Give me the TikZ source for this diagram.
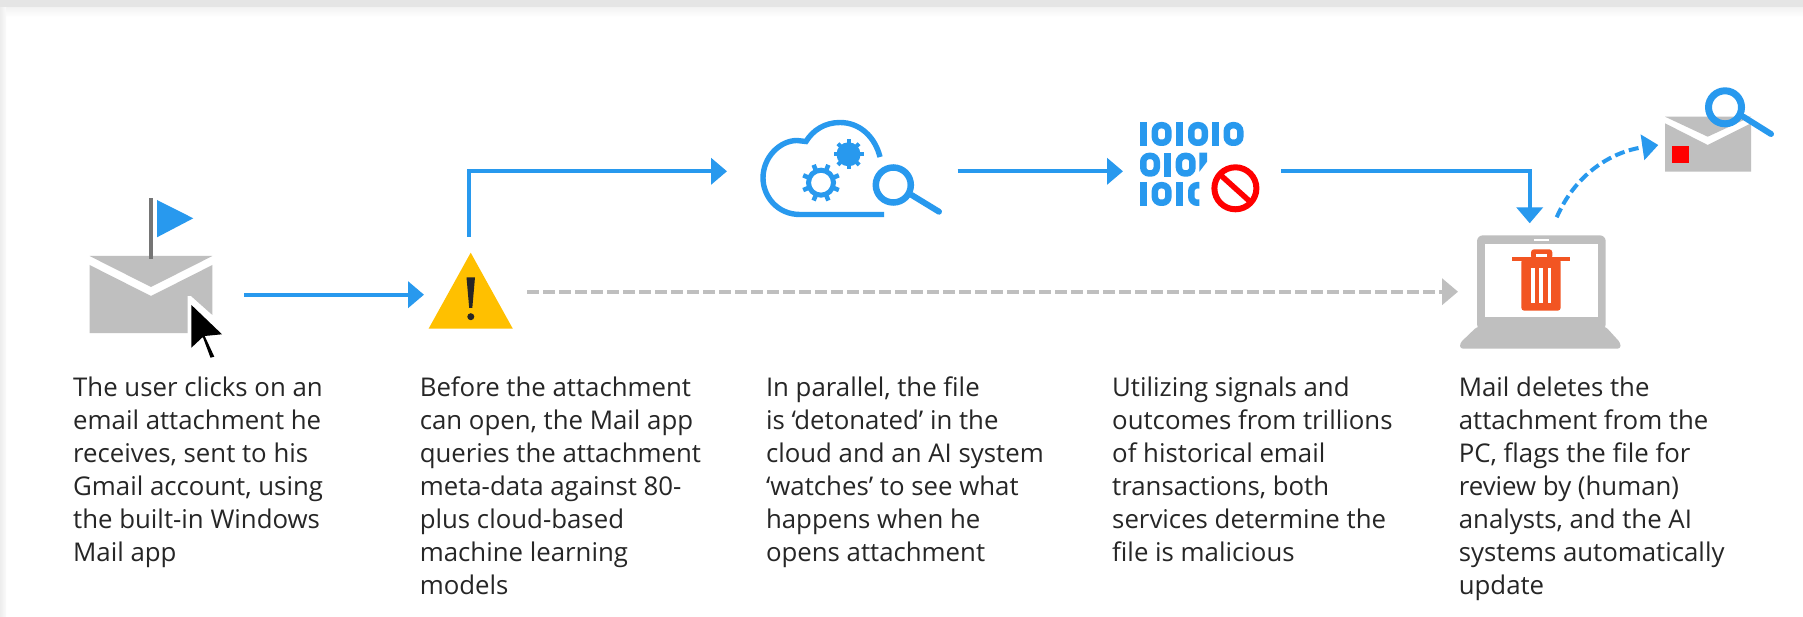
\documentclass[tikz,border=0pt]{standalone}
\usepackage{fontspec}
\setmainfont{Open Sans}
\usetikzlibrary{arrows.meta}
\definecolor{ablue}{HTML}{2899EE}
\definecolor{mgray}{HTML}{BFBFBF}
\definecolor{txt}{HTML}{262626}
\definecolor{trash}{HTML}{F25522}
\definecolor{amber}{HTML}{FFC000}
\tikzset{
  flow/.style={draw=ablue,line width=4pt,-{Triangle[length=16pt,width=26pt,fill=ablue]}},
  flowdash/.style={draw=ablue,line width=4pt,dash pattern=on 10pt off 4.5pt,-{Triangle[length=16pt,width=25pt,fill=ablue]}},
  ghost/.style={draw=mgray,line width=3.7pt,dash pattern=on 12pt off 4pt,-{Triangle[length=16pt,width=26pt,fill=mgray]}},
  caption/.style={anchor=north west,inner sep=0pt,align=left,text=txt,font=\fontsize{25.8}{33}\selectfont},
  lens/.style={draw=ablue,line width=6.5pt},
  lenshandle/.style={draw=ablue,line width=6pt,line cap=round},
}
\newcommand{\bitone}[2]{\fill[ablue] (#1,#2) rectangle ++(7,24);}
\newcommand{\bitzero}[2]{\draw[ablue,line width=6.5pt,rounded corners=6pt] (#1+3.25,#2+3.25) rectangle (#1+16.75,#2+20.75);}
\begin{document}
\begin{tikzpicture}[x=1pt,y=-1pt]
\useasboundingbox (0,0) rectangle (1803,617);
\fill[white] (0,0) rectangle (1803,617);
% soft page shadow along the top and the left
\shade[top color=black!5,bottom color=white] (0,7) rectangle (1803,17);
\shade[left color=black!7,right color=black!2] (0,0) rectangle (6,617);
\fill[black!10] (0,0) rectangle (1803,7);

% ----- mail with flag
\fill[mgray] (89.6,256) -- (212.4,256) -- (151,287) -- cycle;
\fill[mgray] (89.6,265) -- (151,296) -- (212.4,265) -- (212.4,315) -- (191,296) -- (187.5,296) -- (187.5,333) -- (89.6,333) -- cycle;
\fill[black!54] (148.9,198) rectangle (153,258.7);
\fill[ablue] (157,200) -- (193.3,218.3) -- (157,237.3) -- cycle;
\fill[black] (191.4,305) -- (222,334.3) -- (204.7,336) -- (214.3,356.7) -- (210.5,357.7) -- (202.8,337) -- (191.4,347.7) -- cycle;

% ----- warning
\fill[amber] (470.7,252.7) -- (512.8,328.7) -- (428.6,328.7) -- cycle;
\fill[txt] (466.5,277.3) -- (475,277.3) -- (472.3,308) -- (469.2,308) -- cycle;
\fill[txt] (470.8,316.7) circle[radius=3.5pt];

% ----- cloud
\draw[ablue,line width=5.4pt] (884,214.5) -- (800,214.5) .. controls (777,214.5) and (763,196) .. (763,178)
  .. controls (763,157) and (780,140.5) .. (797,140.5) -- (806,141.5)
  .. controls (813,130) and (825,122.5) .. (840,122.5) .. controls (860,122.5) and (875,137) .. (880,157);
\begin{scope}[shift={(821,182.7)}]
  \draw[ablue,line width=5pt] (0,0) circle[radius=12.5pt];
  \foreach \a in {22.5,67.5,...,337.5} \draw[ablue,line width=4.5pt] (\a:13) -- (\a:19.3);
\end{scope}
\begin{scope}[shift={(848.5,154.3)}]
  \fill[ablue] (0,0) circle[radius=12pt];
  \foreach \a in {0,45,...,315} \draw[ablue,line width=4pt] (\a:10) -- (\a:15);
\end{scope}
\draw[lens] (893.3,185) circle[radius=17.5pt];
\draw[lenshandle] (911.6,195) -- (939,211.7);

% ----- binary
\bitone{1140}{122}\bitzero{1151.6}{122}\bitone{1176}{122}\bitzero{1188}{122}\bitone{1212}{122}\bitzero{1223.5}{122}
\bitzero{1140}{152.7}\bitone{1163.8}{152.7}\bitzero{1175.7}{152.7}
\fill[ablue] (1199.4,152.7) -- (1207,152.7) -- (1207,161.7) -- (1199.4,171.7) -- cycle;
\bitone{1140}{182}\bitzero{1151.6}{182}\bitone{1176}{182}
\begin{scope}
  \clip (1180,178) rectangle (1199.4,210);
  \bitzero{1188}{182}
\end{scope}
\draw[red,line width=6pt] (1235.4,188.3) circle[radius=21pt];
\draw[red,line width=5.5pt] (1220.5,175) -- (1249,200.7);

% ----- laptop
\fill[mgray,rounded corners=6pt] (1477,235.3) -- (1605.7,235.3) -- (1605.7,330) -- (1477,330) -- cycle;
\fill[mgray,rounded corners=3pt] (1477,326.7) -- (1605.7,326.7) -- (1620.5,343) -- (1620.5,348.7) -- (1460,348.7) -- (1460,343) -- cycle;
\fill[white] (1485,244) rectangle (1598.3,317);
\fill[white] (1534,239.3) rectangle (1549.3,240.8);
\fill[trash,rounded corners=3pt] (1531,249.3) -- (1552.3,249.3) -- (1552.3,259) -- (1531,259) -- cycle;
\fill[white] (1536,254) rectangle (1547.3,257);
\fill[trash] (1512,257) rectangle (1570,261);
\fill[trash,rounded corners=3pt] (1521.3,259) -- (1560.7,259) -- (1560.7,310.7) -- (1521.3,310.7) -- cycle;
\fill[white] (1531,268.3) rectangle (1535,302.7);
\fill[white] (1539,268.3) rectangle (1543,302.7);
\fill[white] (1547.7,268.3) rectangle (1551.3,302.7);

% ----- flagged mail
\fill[mgray] (1665,116.7) -- (1751,116.7) -- (1707.7,136.7) -- cycle;
\fill[mgray] (1665,123.3) -- (1707.7,145) -- (1751,123.3) -- (1751,171.7) -- (1665,171.7) -- cycle;
\fill[red] (1672,146) rectangle (1689,162.7);
\draw[lens,line width=7pt] (1725,107.3) circle[radius=16.5pt];
\draw[lenshandle] (1743.3,116.7) -- (1771,134);

% ----- connector ends
\coordinate (mailOut) at (244,294.7);
\coordinate (warnIn) at (424,294.7);
\coordinate (warnUp) at (468.8,237);
\coordinate (cloudIn) at (727,171.3);
\coordinate (cloudOut) at (957.5,171.3);
\coordinate (dataIn) at (1123,171.3);
\coordinate (dataOut) at (1281,171.3);
\coordinate (laptopIn) at (1529.7,223.3);
\coordinate (warnSide) at (527,291.7);
\coordinate (laptopSide) at (1458,291.7);
\coordinate (laptopUp) at (1556.7,217.3);
\coordinate (reviewIn) at (1658.3,145);

\draw[flow] (mailOut) -- (warnIn);
\draw[flow] (warnUp) |- (cloudIn);
\draw[flow] (cloudOut) -- (dataIn);
\draw[flow] (dataOut) -| (laptopIn);
\draw[ghost] (warnSide) -- (laptopSide);
\draw[flowdash] (laptopUp) .. controls (1575,175) and (1610,152) .. (reviewIn);

% ----- captions
\node[caption] (c1) at (73,377) {The user clicks on an\\email attachment he\\receives, sent to his\\Gmail account, using\\the built-in Windows\\Mail app};
\node[caption] (c2) at (419.6,377) {Before the attachment\\can open, the Mail app\\queries the attachment\\meta-data against 80-\\plus cloud-based\\machine learning\\models};
\node[caption] (c3) at (765.8,377) {In parallel, the file\\is ‘detonated’ in the\\cloud and an AI system\\‘watches’ to see what\\happens when he\\opens attachment};
\node[caption] (c4) at (1112,377) {Utilizing signals and\\outcomes from trillions\\of historical email\\transactions, both\\services determine the\\file is malicious};
\node[caption] (c5) at (1458.6,377) {Mail deletes the\\attachment from the\\PC, flags the file for\\review by (human)\\analysts, and the AI\\systems automatically\\update};
\end{tikzpicture}
\end{document}
